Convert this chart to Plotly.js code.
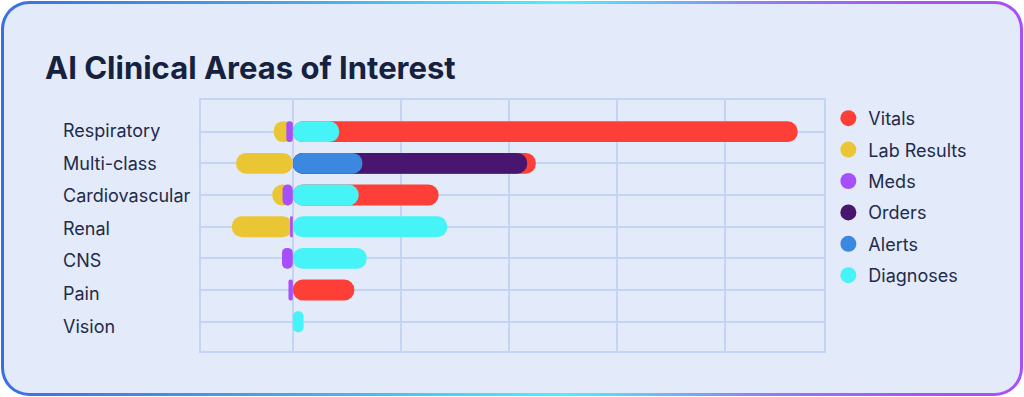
<!DOCTYPE html>
<html>
<head>
<meta charset="utf-8">
<script src="https://cdn.plot.ly/plotly-3.0.1.min.js"></script>
<style>
  html, body { margin:0; padding:0; background:#ffffff; width:1024px; height:397px; overflow:hidden; }
  #card {
    position:absolute; left:1px; top:1px; width:1022px; height:395px; box-sizing:border-box;
    border-radius:28px; padding:3px;
    background: linear-gradient(90deg, #3c6ee2 0%, #4aa8ee 30%, #4ef0f9 55%, #8f7cf8 75%, #a852f8 90%, #a94ff8 100%);
  }
  #inner { width:100%; height:100%; border-radius:25px; background:#e3eaf9; }
  #chart { position:absolute; left:0; top:0; width:1024px; height:397px; }
</style>
</head>
<body>
<div id="card"><div id="inner"></div></div>
<div id="chart"></div>
<script>
// ---- data ----
const categories = ["Respiratory", "Multi-class", "Cardiovascular", "Renal", "CNS", "Pain", "Vision"];
const vitals     = [84.9, 1.6, 14.8, 0, 0, 11.4, 0];
const labResults = [-2.3, -10.5, -1.9, -10.8, 0, 0, 0];
const meds       = [-1.2, 0, -1.9, -0.5, -2.0, -0.8, 0];
const orders     = [0, 30.5, 0, 0, 0, 0, 0];
const alerts     = [0, 12.9, 0, 0, 0, 0, 0];
const diagnoses  = [8.6, 0, 12.2, 28.6, 13.7, 0, 2.0];

const names  = ["Vitals", "Lab Results", "Meds", "Orders", "Alerts", "Diagnoses"];
const colors = {Vitals:"#fd3f38", "Lab Results":"#eac634", Meds:"#a74ffb", Orders:"#48166e", Alerts:"#3a88e0", Diagnoses:"#46f3f7"};

// cumulative stacks (positive: Diagnoses, Alerts, Orders, Vitals outward; negative: Meds, Lab Results outward)
function add(a, b) { return a.map((v, i) => v + b[i]); }
function mask(cum, own) { return cum.map((v, i) => own[i] === 0 ? null : v); }
const cumDiag   = diagnoses.slice();
const cumAlerts = add(cumDiag, alerts);
const cumOrders = add(cumAlerts, orders);
const cumVitals = add(cumOrders, vitals);
const cumMeds   = meds.slice();
const cumLab    = add(cumMeds, labResults);

const barW = 0.66;
function barTrace(name, xs) {
  return {
    type: "bar", orientation: "h", name: name, y: categories, x: xs, base: 0,
    width: barW, showlegend: false, legendgroup: name, hoverinfo: "x+name",
    marker: { color: colors[name], cornerradius: "50%", line: {width: 0} }
  };
}
const traces = [
  barTrace("Vitals", mask(cumVitals, vitals)),
  barTrace("Orders", mask(cumOrders, orders)),
  barTrace("Alerts", mask(cumAlerts, alerts)),
  barTrace("Diagnoses", mask(cumDiag, diagnoses)),
  barTrace("Lab Results", mask(cumLab, labResults)),
  barTrace("Meds", mask(cumMeds, meds))
];
// legend entries (circle markers)
names.forEach(n => traces.push({
  type: "scatter", mode: "markers", x: [null], y: [null], name: n, legendgroup: n,
  marker: { color: colors[n], size: 18, symbol: "circle" }, hoverinfo: "skip"
}));

const FONT = "Inter, Roboto, sans-serif";
const gridC = "#c3d4f6";
const txtC = "#1f2b4a";
// category labels: left-aligned, on a hidden overlaying category axis (slightly looser spacing, as in the original)
const annotations = categories.map(c => ({
  xref: "paper", yref: "y2", x: (61 - 201) / 623, y: c, xanchor: "left", yanchor: "middle",
  text: c, showarrow: false, font: { family: FONT, size: 18, color: txtC }
}));

const layout = {
  width: 1024, height: 397,
  margin: { l: 201, r: 200, t: 100, b: 46, pad: 0 },
  paper_bgcolor: "rgba(0,0,0,0)", plot_bgcolor: "rgba(0,0,0,0)",
  barmode: "overlay",
  title: {
    text: "<b>AI Clinical Areas of Interest</b>",
    xref: "container", yref: "container", x: 45 / 1024, xanchor: "left",
    y: 1 - 68 / 397, yanchor: "middle",
    font: { family: FONT, size: 31, color: "#15213f" }
  },
  xaxis: {
    range: [-17, 98.37], dtick: 20, tick0: 0, showticklabels: false, ticks: "",
    showgrid: true, gridcolor: gridC, gridwidth: 2,
    zeroline: true, zerolinecolor: gridC, zerolinewidth: 2,
    showline: true, mirror: true, linecolor: gridC, linewidth: 2, fixedrange: true
  },
  yaxis: {
    type: "category", categoryarray: categories, range: [6.925, -1.0], showticklabels: false, ticks: "",
    showgrid: true, gridcolor: gridC, gridwidth: 2,
    showline: true, mirror: true, linecolor: gridC, linewidth: 2, fixedrange: true
  },
  yaxis2: {
    type: "category", categoryarray: categories, overlaying: "y", range: [6.768, -0.943],
    showticklabels: false, showgrid: false, zeroline: false, showline: false, ticks: "", fixedrange: true
  },
  showlegend: true,
  legend: {
    x: 1.007, xanchor: "left", y: 1.0, yanchor: "top",
    traceorder: "grouped", tracegroupgap: 5,
    font: { family: FONT, size: 18, color: txtC },
    bgcolor: "rgba(0,0,0,0)", borderwidth: 0, itemclick: false, itemdoubleclick: false
  },
  annotations: annotations,
  font: { family: FONT, color: txtC }
};

Plotly.newPlot("chart", traces, layout, { displayModeBar: false, staticPlot: true });
</script>
</body>
</html>
